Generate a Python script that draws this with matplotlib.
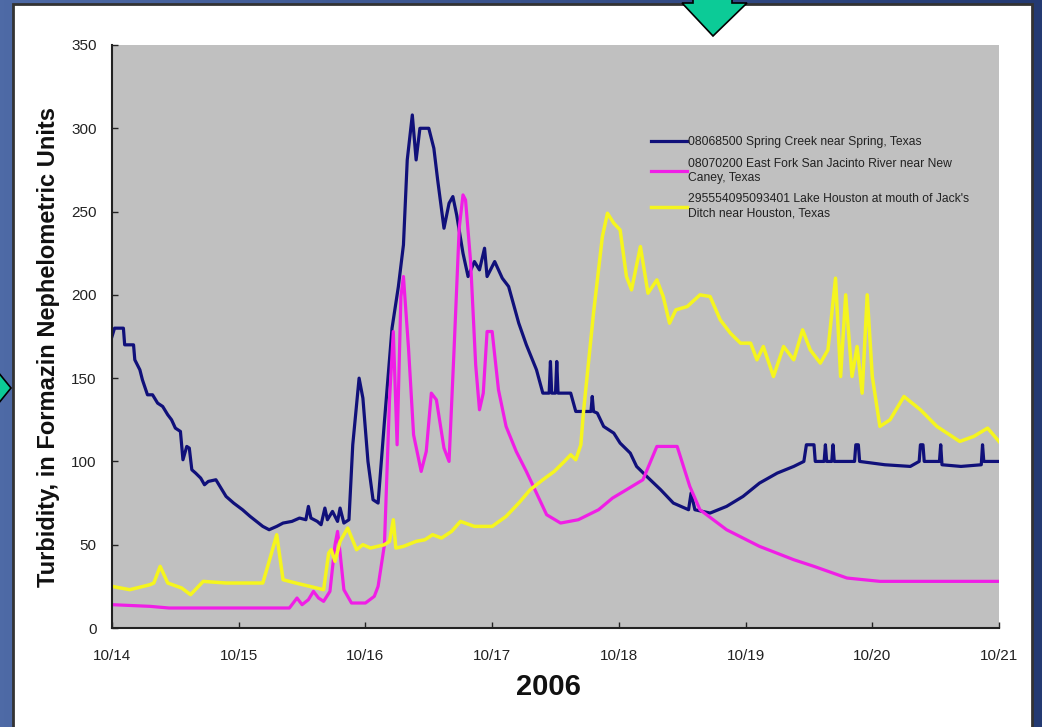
import numpy as np
import matplotlib
matplotlib.use('Agg')
import matplotlib.pyplot as plt
from matplotlib.patches import Rectangle, Polygon

plt.rcParams['font.family'] = ['Liberation Sans', 'DejaVu Sans']

# days since 10/14/2006 00:00
spring_x = [0.00, 0.02, 0.09, 0.10, 0.17, 0.18, 0.22, 0.24, 0.28, 0.32, 0.36, 0.40, 0.44, 0.47,
            0.50, 0.54, 0.56, 0.59, 0.61, 0.63, 0.66, 0.70, 0.73, 0.76, 0.82, 0.86, 0.90, 0.96,
            1.03, 1.09, 1.14, 1.19, 1.24, 1.30, 1.35, 1.42, 1.48, 1.53, 1.55, 1.57, 1.62, 1.65,
            1.68, 1.70, 1.74, 1.78, 1.80, 1.83, 1.87, 1.90, 1.95, 1.98, 2.02, 2.06, 2.10, 2.15,
            2.21, 2.26, 2.30, 2.33, 2.37, 2.40, 2.43, 2.50, 2.54, 2.57, 2.62, 2.66, 2.69, 2.72,
            2.77, 2.81, 2.86, 2.90, 2.94, 2.96, 3.02, 3.08, 3.13, 3.21, 3.27, 3.35, 3.40, 3.45,
            3.46, 3.47, 3.50, 3.51, 3.52, 3.62, 3.66, 3.78, 3.79, 3.80, 3.83, 3.88, 3.96, 4.01,
            4.09, 4.14, 4.22, 4.33, 4.43, 4.55, 4.57, 4.60, 4.72, 4.85, 4.98, 5.11, 5.25, 5.38,
            5.46, 5.48, 5.54, 5.55, 5.62, 5.63, 5.64, 5.68, 5.69, 5.70, 5.86, 5.87, 5.89, 5.90,
            6.10, 6.30, 6.37, 6.38, 6.40, 6.41, 6.53, 6.54, 6.55, 6.70, 6.86, 6.87, 6.88, 7.00]
spring_y = [175, 180, 180, 170, 170, 161, 155, 149, 140, 140, 135, 133, 128, 125,
            120, 118, 101, 109, 108, 95, 93, 90, 86, 88, 89, 84, 79, 75,
            71, 67, 64, 61, 59, 61, 63, 64, 66, 65, 73, 66, 64, 62,
            72, 65, 70, 64, 72, 63, 65, 110, 150, 138, 100, 77, 75, 124,
            180, 205, 230, 281, 308, 281, 300, 300, 288, 269, 240, 255, 259, 248,
            225, 211, 220, 215, 228, 211, 220, 210, 205, 183, 170, 155, 141, 141,
            160, 141, 141, 160, 141, 141, 130, 130, 139, 130, 129, 121, 117, 111,
            105, 97, 91, 83, 75, 71, 81, 71, 69, 73, 79, 87, 93, 97,
            100, 110, 110, 100, 100, 110, 100, 100, 110, 100, 100, 110, 110, 100,
            98, 97, 100, 110, 110, 100, 100, 110, 98, 97, 98, 110, 100, 100]

fork_x = [0.00, 0.30, 0.45, 1.00, 1.40, 1.46, 1.50, 1.55, 1.59, 1.63, 1.67, 1.72, 1.76, 1.78,
          1.80, 1.83, 1.89, 2.00, 2.07, 2.10, 2.15, 2.19, 2.22, 2.25, 2.28, 2.30, 2.34, 2.38,
          2.44, 2.48, 2.52, 2.56, 2.62, 2.66, 2.70, 2.74, 2.77, 2.79, 2.83, 2.87, 2.90, 2.93,
          2.96, 3.00, 3.05, 3.11, 3.19, 3.27, 3.35, 3.43, 3.54, 3.68, 3.84, 3.95, 4.06, 4.19,
          4.30, 4.46, 4.56, 4.64, 4.85, 5.11, 5.38, 5.54, 5.80, 6.06, 6.50, 7.00]
fork_y = [14, 13, 12, 12, 12, 18, 14, 17, 22, 18, 16, 22, 50, 58,
          45, 23, 15, 15, 19, 25, 50, 137, 178, 110, 199, 211, 168, 116,
          94, 106, 141, 137, 108, 100, 168, 240, 260, 257, 220, 158, 131, 141,
          178, 178, 143, 121, 106, 94, 81, 68, 63, 65, 71, 78, 83, 89,
          109, 109, 85, 71, 59, 49, 41, 37, 30, 28, 28, 28]

lake_x = [0.00, 0.14, 0.30, 0.33, 0.38, 0.44, 0.55, 0.62, 0.72, 0.90, 1.19, 1.24, 1.30, 1.35,
          1.45, 1.56, 1.67, 1.71, 1.73, 1.76, 1.80, 1.86, 1.93, 1.98, 2.04, 2.15, 2.19, 2.22,
          2.24, 2.30, 2.40, 2.47, 2.53, 2.60, 2.68, 2.75, 2.86, 3.00, 3.11, 3.21, 3.30, 3.40,
          3.49, 3.57, 3.62, 3.66, 3.70, 3.72, 3.80, 3.87, 3.91, 3.96, 4.01, 4.06, 4.10, 4.17,
          4.23, 4.30, 4.35, 4.40, 4.45, 4.54, 4.64, 4.72, 4.80, 4.88, 4.96, 5.04, 5.09, 5.14,
          5.22, 5.30, 5.38, 5.45, 5.51, 5.59, 5.65, 5.71, 5.75, 5.79, 5.84, 5.88, 5.92, 5.96,
          6.00, 6.06, 6.14, 6.25, 6.38, 6.51, 6.69, 6.80, 6.91, 7.00]
lake_y = [25, 23, 26, 27, 37, 27, 24, 20, 28, 27, 27, 40, 56, 29,
          27, 25, 23, 45, 47, 40, 52, 60, 47, 50, 48, 50, 52, 65,
          48, 49, 52, 53, 56, 54, 58, 64, 61, 61, 67, 75, 83, 89,
          94, 100, 104, 101, 110, 129, 189, 235, 249, 243, 239, 211, 203, 229,
          201, 209, 199, 183, 191, 193, 200, 199, 185, 177, 171, 171, 161, 169,
          151, 169, 161, 179, 167, 159, 167, 210, 151, 200, 151, 169, 141, 200,
          151, 121, 125, 139, 131, 121, 112, 115, 120, 112]

day_ticks = [0, 1, 2, 3, 4, 5, 6, 7]
day_labels = ['10/14', '10/15', '10/16', '10/17', '10/18', '10/19', '10/20', '10/21']
y_ticks = [0, 50, 100, 150, 200, 250, 300, 350]

labels = ['08068500 Spring Creek near Spring, Texas',
          '08070200 East Fork San Jacinto River near New\nCaney, Texas',
          "295554095093401 Lake Houston at mouth of Jack's\nDitch near Houston, Texas"]

fig = plt.figure(figsize=(10.42, 7.27), dpi=100)

# slide background
bg = fig.add_axes([0, 0, 1, 1], zorder=-10)
grad = np.linspace(0, 1, 256).reshape(1, -1)
bg.imshow(grad, aspect='auto', extent=[0, 1, 0, 1],
          cmap=matplotlib.colors.LinearSegmentedColormap.from_list('slide', ['#4e6aa6', '#243a72']))
bg.set_axis_off()

fig.patches.append(Rectangle((13 / 1042, -0.01), (1032 - 13) / 1042, 1 - 4 / 727 + 0.01,
                             transform=fig.transFigure, facecolor='white', edgecolor='#333333',
                             linewidth=2, zorder=-5))

# green arrows
def fpt(px, py):
    return (px / 1042, 1 - py / 727)

top_arrow = [fpt(693, -2), fpt(732, -2), fpt(732, 3), fpt(747, 3), fpt(713, 36), fpt(682, 3), fpt(693, 3)]
fig.patches.append(Polygon(top_arrow, closed=True, transform=fig.transFigure,
                           facecolor='#0ccb97', edgecolor='black', linewidth=1.2, zorder=5))
left_arrow = [fpt(-2, 372), fpt(11, 388), fpt(-2, 404)]
fig.patches.append(Polygon(left_arrow, closed=True, transform=fig.transFigure,
                           facecolor='#0ccb97', edgecolor='black', linewidth=1.2, zorder=5))

ax = fig.add_axes([112 / 1042, 99 / 727, 887 / 1042, 583 / 727])
ax.set_facecolor('#c0c0c0')

ax.plot(spring_x, spring_y, color='#10107a', lw=2.3, label=labels[0])
ax.plot(fork_x, fork_y, color='#f01ee6', lw=2.3, label=labels[1])
ax.plot(lake_x, lake_y, color='#f5f51e', lw=2.5, label=labels[2])

ax.set_xlim(0, 7)
ax.set_ylim(0, 350)
ax.set_xticks(day_ticks)
ax.set_xticklabels(day_labels)
ax.set_yticks(y_ticks)
ax.tick_params(direction='in', length=4, width=1, labelsize=11, colors='#222222', pad=15)
ax.tick_params(axis='y', pad=11)
for s in ['top', 'right']:
    ax.spines[s].set_visible(False)
for s in ['left', 'bottom']:
    ax.spines[s].set_linewidth(1.5)
    ax.spines[s].set_color('#222222')

ax.set_xlabel('2006', fontsize=21, fontweight='bold', color='#111111')
ax.xaxis.set_label_coords(0.4915, -0.077)
ax.set_ylabel('Turbidity, in Formazin Nephelometric Units', fontsize=17, fontweight='bold',
              color='#111111')
ax.yaxis.set_label_coords(-0.0586, 0.482)

ax.legend(loc='upper left', bbox_to_anchor=(0.595, 0.862), frameon=False, fontsize=8.7,
          handlelength=3.0, handletextpad=0.1, labelspacing=0.8, labelcolor='#222222')

fig.savefig('out.png', dpi=100)
